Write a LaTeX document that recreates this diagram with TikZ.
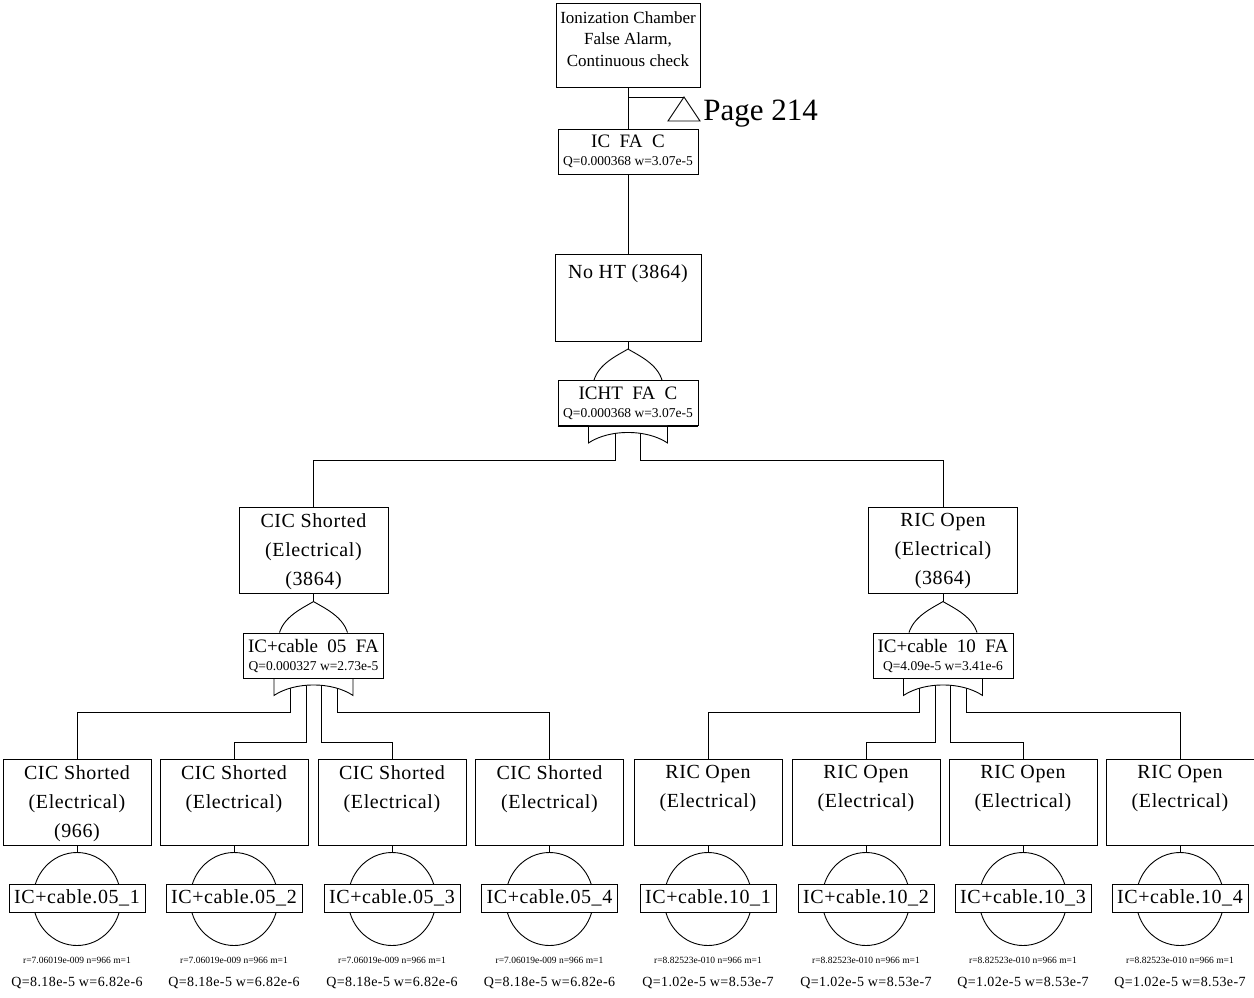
\documentclass[tikz,border=0pt]{standalone}
\usepackage{fontspec}
\setmainfont{Liberation Serif}
\newfontfamily\spacedfam{Liberation Serif}[LetterSpace=3]
\usetikzlibrary{calc,shapes.geometric}

\newcommand\evfont{\spacedfam\fontsize{20}{29}\selectfont}
\newcommand\gtfont{\fontsize{19}{18}\selectfont}
\newcommand\qfont{\fontsize{13.5}{14}\selectfont}
\newcommand\bqfont{\spacedfam\fontsize{14}{14}\selectfont}
\newcommand\rfont{\fontsize{9.5}{10}\selectfont}

% OR gate: arch above the gate box, skirt below it
\newcommand\orgate[1]{%
  \coordinate (#1-top) at ($(#1.north)+(0,-31)$);
  \draw ($(#1.north)+(-34,0)$) .. controls +(5,-16) and +(-12,7) .. (#1-top)
        .. controls +(12,7) and +(-5,-16) .. ($(#1.north)+(34,0)$);
  \filldraw[fill=white] ($(#1.south)+(-39.5,0)$) -- ++(0,17)
        .. controls +(21,-14) and +(-21,-14) .. ($(#1.south)+(39.5,17)$) -- ++(0,-17);
  \draw (#1.south west) -- (#1.south east);
}

\tikzset{
  ev/.style={draw, anchor=north, minimum width=149pt, minimum height=86pt, inner sep=0pt},
  evtxt/.style={anchor=north, align=center, font=\evfont, inner sep=0pt},
  gate/.style={draw, fill=white, align=center, font=\gtfont, minimum width=140pt,
    minimum height=45pt, inner sep=1pt},
  basic/.style={draw, ellipse, minimum width=88pt, minimum height=93pt, inner sep=0pt},
  bname/.style={draw, fill=white, font=\evfont, minimum width=136pt, minimum height=28pt,
    inner sep=1pt},
  rtxt/.style={font=\rfont, inner sep=0pt},
  qtxt/.style={font=\bqfont, inner sep=0pt}
}

\begin{document}
\begin{tikzpicture}[x=1pt, y=-1pt, line width=0.9pt]
  \path[fill=white, use as bounding box] (0,0) rectangle (1254,997);

  % top event and transfer
  \node[draw, anchor=north, minimum width=144pt, minimum height=84pt] (top) at (628,3) {};
  \node[anchor=north, align=center, font=\fontsize{17}{21.5}\selectfont, inner sep=0pt]
    (top-t) at ($(top.north)+(0,8)$) {Ionization Chamber\\False Alarm,\\Continuous check};
  \node[gate] (icfac) at (628,151.5) {IC~~FA~~C\\{\qfont Q=0.000368 w=3.07e-5}};
  \draw (top.south) -- (icfac.north);
  \coordinate (tj) at (628,97);
  \coordinate (tr) at (684,97);
  \draw (tj) -- (tr);
  \draw (tr) -- (668,121) -- (700,121) -- cycle;
  \node[anchor=west, font=\fontsize{31}{31}\selectfont, inner sep=0pt] (pg) at (703,114) {Page 214};

  \node[ev, minimum width=146pt, minimum height=87pt] (noht) at (628,254) {};
  \node[evtxt] (noht-t) at ($(noht.north)+(0,10)$) {No HT (3864)};
  \draw (icfac.south) -- (noht.north);
  \node[gate] (g0) at (628,403) {ICHT~~FA~~C\\{\qfont Q=0.000368 w=3.07e-5}};

  % second level
  \node[ev] (cic) at (313.5,507) {};
  \node[evtxt] (cic-t) at ($(cic.north)+(0,6)$) {CIC Shorted\\(Electrical)\\(3864)};
  \node[ev] (ric) at (943,507) {};
  \node[evtxt] (ric-t) at ($(ric.north)+(0,6)$) {RIC Open\\(Electrical)\\(3864)};
  \node[gate] (g1) at (313.5,655.5) {IC+cable~~05~~FA\\{\qfont Q=0.000327 w=2.73e-5}};
  \node[gate] (g2) at (943,655.5) {IC+cable~~10~~FA\\{\qfont Q=4.09e-5 w=3.41e-6}};

  % basic events
  \foreach \i/\x/\t/\lab/\rr/\qq in {
    1/77/{CIC Shorted\\(Electrical)\\(966)}/05\_1/{r=7.06019e-009 n=966 m=1}/{Q=8.18e-5 w=6.82e-6},
    2/234/{CIC Shorted\\(Electrical)}/05\_2/{r=7.06019e-009 n=966 m=1}/{Q=8.18e-5 w=6.82e-6},
    3/392/{CIC Shorted\\(Electrical)}/05\_3/{r=7.06019e-009 n=966 m=1}/{Q=8.18e-5 w=6.82e-6},
    4/549.5/{CIC Shorted\\(Electrical)}/05\_4/{r=7.06019e-009 n=966 m=1}/{Q=8.18e-5 w=6.82e-6},
    5/708/{RIC Open\\(Electrical)}/10\_1/{r=8.82523e-010 n=966 m=1}/{Q=1.02e-5 w=8.53e-7},
    6/866/{RIC Open\\(Electrical)}/10\_2/{r=8.82523e-010 n=966 m=1}/{Q=1.02e-5 w=8.53e-7},
    7/1023/{RIC Open\\(Electrical)}/10\_3/{r=8.82523e-010 n=966 m=1}/{Q=1.02e-5 w=8.53e-7},
    8/1180/{RIC Open\\(Electrical)}/10\_4/{r=8.82523e-010 n=966 m=1}/{Q=1.02e-5 w=8.53e-7}}{
    \node[ev, minimum width=148pt] (e\i) at (\x,759) {};
    \node[evtxt] (e\i-t) at ($(e\i.north)+(0,6)$) {\t};
    \node[basic] (b\i) at (\x,899) {};
    \draw (e\i.south) -- (b\i.north);
    \node[bname] (l\i) at (\x,898) {IC+cable.\lab};
    \node[rtxt] (r\i) at (\x,960) {\rr};
    \node[qtxt] (q\i) at (\x,983) {\qq};
  }

  % gate legs
  \draw ($(g0.south)+(-12.5,0)$) -- ++(0,34) -| (cic.north);
  \draw ($(g0.south)+(12.5,0)$) -- ++(0,34) -| (ric.north);
  \draw ($(g1.south)+(-23.5,0)$) -- ++(0,34) -| (e1.north);
  \draw ($(g1.south)+(-7.5,0)$) -- ++(0,64) -| (e2.north);
  \draw ($(g1.south)+(7.5,0)$) -- ++(0,64) -| (e3.north);
  \draw ($(g1.south)+(23.5,0)$) -- ++(0,34) -| (e4.north);
  \draw ($(g2.south)+(-23.5,0)$) -- ++(0,34) -| (e5.north);
  \draw ($(g2.south)+(-7.5,0)$) -- ++(0,64) -| (e6.north);
  \draw ($(g2.south)+(7.5,0)$) -- ++(0,64) -| (e7.north);
  \draw ($(g2.south)+(23.5,0)$) -- ++(0,34) -| (e8.north);

  \orgate{g0}
  \orgate{g1}
  \orgate{g2}
  \draw (noht.south) -- (g0-top);
  \draw (cic.south) -- (g1-top);
  \draw (ric.south) -- (g2-top);
\end{tikzpicture}
\end{document}
